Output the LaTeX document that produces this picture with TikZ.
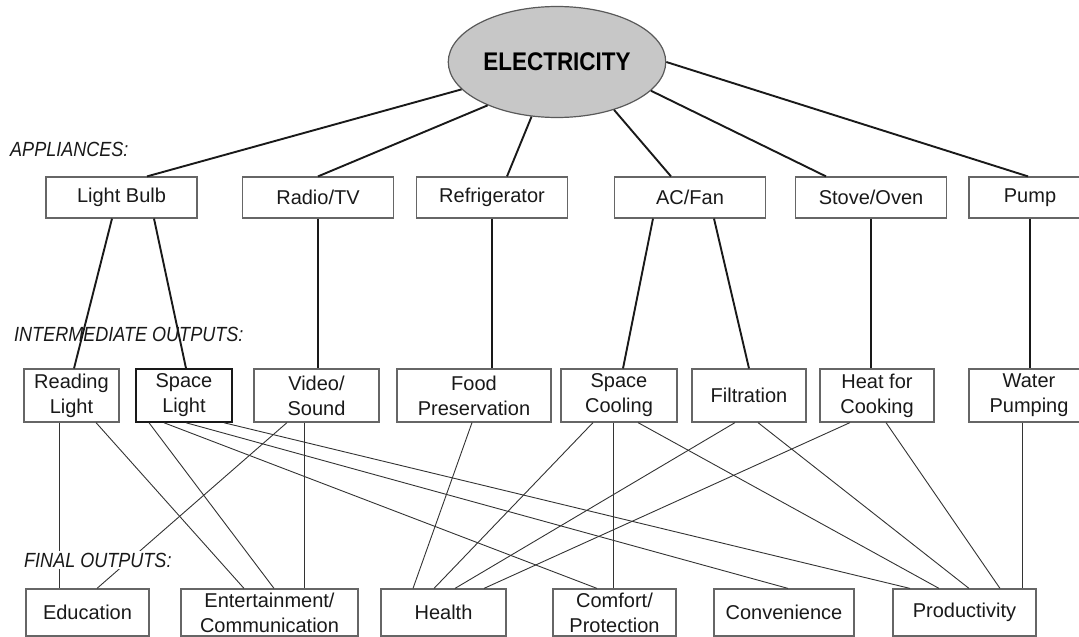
\documentclass[tikz,border=0pt]{standalone}
\usepackage{fontspec}
\setmainfont{Liberation Sans}
\newfontfamily\etroite{Liberation Sans}[FakeStretch=0.88]
\usetikzlibrary{shapes.geometric}

\begin{document}
\begin{tikzpicture}[x=1pt,y=-1pt]
\tikzset{boite/.style={draw=black!60, line width=1.2pt, align=center, text=black!90, inner sep=0pt, minimum width=151pt, minimum height=41pt, font=\fontsize{20}{25}\selectfont},
  inter/.style={boite, minimum height=53pt},
  finale/.style={boite, minimum height=47pt},
  elecnoeud/.style={ellipse, draw=black!65, fill=black!22, line width=1.2pt, minimum width=208pt, minimum height=111pt, font=\etroite\bfseries\fontsize{25.5}{30}\selectfont},
  rubrique/.style={anchor=west, inner sep=2pt, text=black!90, font=\etroite\itshape\fontsize{20.5}{24}\selectfont},
  gros/.style={line width=1.9pt, black!90},
  fin/.style={line width=0.9pt, black!80}}
\useasboundingbox (0,0) rectangle (1079,637);
\clip (0,0) rectangle (1079,637);
\node[elecnoeud] (E) at (557,62) {ELECTRICITY};
\node[boite] (A1) at (121.5,197.5) {Light Bulb};
\node[boite] (A2) at (318,197.5) {Radio/TV};
\node[boite] (A3) at (492,197.5) {Refrigerator};
\node[boite] (A4) at (690,197.5) {AC/Fan};
\node[boite] (A5) at (871,197.5) {Stove/Oven};
\node[boite, minimum width=122pt] (A6) at (1030,197.5) {Pump};
\node[inter, minimum width=95pt] (I1) at (71.5,395.5) {Reading\\Light};
\node[inter, minimum width=96pt, draw=black!90, line width=1.5pt] (I2) at (184,395.5) {Space\\Light};
\node[inter, minimum width=125pt] (I3) at (316.5,395.5) {Video/\\Sound};
\node[inter, minimum width=154pt] (I4) at (474,395.5) {Food\\Preservation};
\node[inter, minimum width=116pt] (I5) at (619,395.5) {Space\\Cooling};
\node[inter, minimum width=114pt] (I6) at (749,395.5) {Filtration};
\node[inter, minimum width=114pt] (I7) at (877,395.5) {Heat for\\Cooking};
\node[inter, minimum width=120pt] (I8) at (1029,395.5) {Water\\Pumping};
\node[finale, minimum width=123pt] (F1) at (87.5,612.5) {Education};
\node[finale, minimum width=177pt] (F2) at (269.5,612.5) {Entertainment/\\Communication};
\node[finale, minimum width=125pt] (F3) at (443.5,612.5) {Health};
\node[finale, minimum width=123pt] (F4) at (614.5,612.5) {Comfort/\\Protection};
\node[finale, minimum width=140pt] (F5) at (784,612.5) {Convenience};
\node[finale, minimum width=143pt] (F6) at (964.5,612.5) {Productivity};
\node[rubrique] (R1) at (8,149.5) {APPLIANCES:};
\node[rubrique] (R2) at (12,334) {INTERMEDIATE OUTPUTS:};
\draw[gros] (E.196) -- ([xshift=25.5pt]A1.north);
\draw[gros] (E.212) -- (A2.north);
\draw[gros] (E.245) -- ([xshift=15pt]A3.north);
\draw[gros] (E.-40) -- ([xshift=-19pt]A4.north);
\draw[gros] (E.-17) -- ([xshift=-45pt]A5.north);
\draw[gros] (E.east) -- ([xshift=-2pt]A6.north);
\draw[gros] ([xshift=-9.5pt]A1.south) -- ([xshift=2.5pt]I1.north);
\draw[gros] ([xshift=32.5pt]A1.south) -- ([xshift=2pt]I2.north);
\draw[gros] (A2.south) -- (A2.south |- I3.north);
\draw[gros] (A3.south) -- (A3.south |- I4.north);
\draw[gros] ([xshift=-37pt]A4.south) -- ([xshift=4pt]I5.north);
\draw[gros] ([xshift=24pt]A4.south) -- (I6.north);
\draw[gros] (A5.south) -- (A5.south |- I7.north);
\draw[gros] (A6.south) -- (A6.south |- I8.north);
\draw[fin] ([xshift=-12.5pt]I1.south) -- ([xshift=-28.5pt]F1.north);
\draw[fin] ([xshift=24.5pt]I1.south) -- ([xshift=-25.5pt]F2.north);
\draw[fin] ([xshift=-35pt]I2.south) -- ([xshift=4.5pt]F2.north);
\draw[fin] ([xshift=-20pt]I2.south) -- ([xshift=-17.5pt]F4.north);
\draw[fin] ([xshift=2pt]I2.south) -- ([xshift=4pt]F5.north);
\draw[fin] ([xshift=40pt]I2.south) -- ([xshift=-54.5pt]F6.north);
\draw[fin] ([xshift=-29.5pt]I3.south) -- ([xshift=9.5pt]F1.north);
\draw[fin] ([xshift=-12.5pt]I3.south) -- ([xshift=34.5pt]F2.north);
\draw[fin] ([xshift=-2pt]I4.south) -- ([xshift=-30.5pt]F3.north);
\draw[fin] ([xshift=-26pt]I5.south) -- ([xshift=-9.5pt]F3.north);
\draw[fin] ([xshift=-6pt]I5.south) -- ([xshift=-1.5pt]F4.north);
\draw[fin] ([xshift=19pt]I5.south) -- ([xshift=-25.5pt]F6.north);
\draw[fin] ([xshift=-14pt]I6.south) -- ([xshift=11.5pt]F3.north);
\draw[fin] ([xshift=9pt]I6.south) -- ([xshift=4.5pt]F6.north);
\draw[fin] ([xshift=-27pt]I7.south) -- ([xshift=40.5pt]F3.north);
\draw[fin] ([xshift=9pt]I7.south) -- ([xshift=35.5pt]F6.north);
\draw[fin] ([xshift=-7pt]I8.south) -- ([xshift=57.5pt]F6.north);
\node[rubrique, fill=white] (R3) at (22,560) {FINAL OUTPUTS:};
\end{tikzpicture}
\end{document}
